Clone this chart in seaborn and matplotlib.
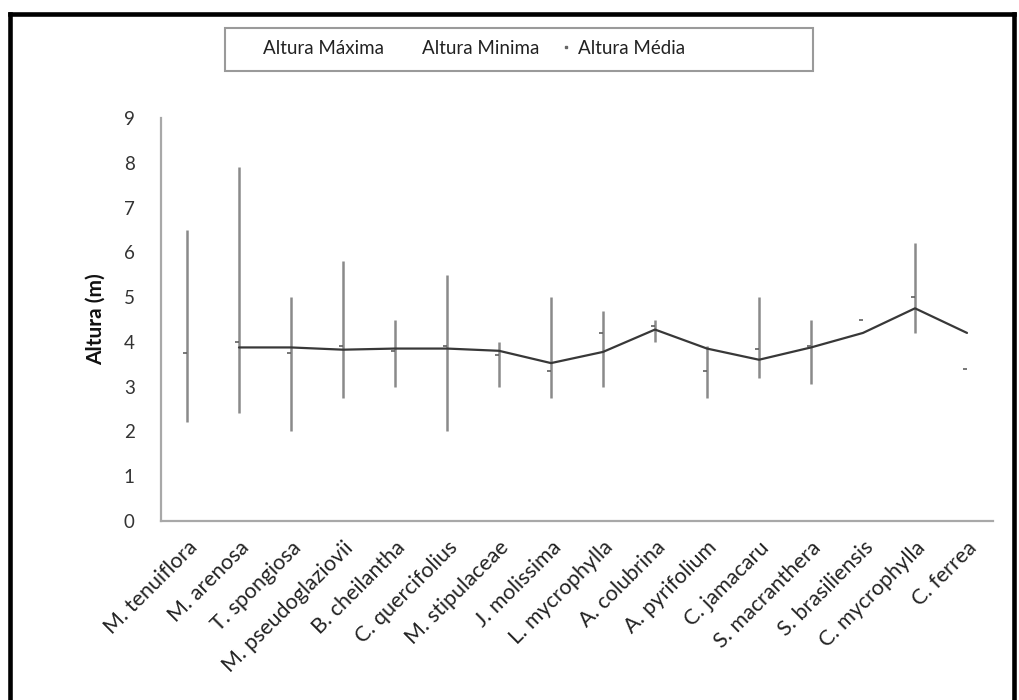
import numpy as np
import pandas as pd
import matplotlib
matplotlib.use("Agg")
import matplotlib.pyplot as plt
from matplotlib.lines import Line2D
from matplotlib.patches import Rectangle
import seaborn as sns

# Tree heights per species (m): maximum, minimum and mean
especies = ["M. tenuiflora", "M. arenosa", "T. spongiosa", "M. pseudoglaziovii",
            "B. cheilantha", "C. quercifolius", "M. stipulaceae", "J. molissima",
            "L. mycrophylla", "A. colubrina", "A. pyrifolium", "C. jamacaru",
            "S. macranthera", "S. brasiliensis", "C. mycrophylla", "C. ferrea"]
altura_maxima = [6.5, 7.9, 5.0, 5.8, 4.5, 5.5, 4.0, 5.0, 4.7, 4.5, 3.9, 5.0, 4.5, np.nan, 6.2, np.nan]
altura_minima = [2.2, 2.4, 2.0, 2.75, 3.0, 2.0, 3.0, 2.75, 3.0, 4.0, 2.75, 3.2, 3.05, np.nan, 4.2, np.nan]
altura_media = [3.75, 4.0, 3.75, 3.9, 3.8, 3.9, 3.7, 3.35, 4.2, 4.35, 3.35, 3.85, 3.9, 4.5, 5.0, 3.4]
y_ticks = list(range(0, 10))

df = pd.DataFrame({
    "especie": especies,
    "max": altura_maxima,
    "min": altura_minima,
    "media": altura_media,
})
df["pos"] = np.arange(len(df))
# two-period moving average of the mean height
df["mm2"] = df["media"].rolling(2).mean()

sns.set_style("white")
plt.rcParams["font.family"] = ["Lato", "DejaVu Sans"]

W, H = 1019, 700
fig = plt.figure(figsize=(W / 100, H / 100), dpi=100)
ax = fig.add_axes([161 / W, 1 - 520.7 / H, (993 - 161) / W, (520.7 - 118.3) / H])

# high-low bars
ax.vlines(df["pos"], df["min"], df["max"], color="#8a8a8a", lw=1.8, zorder=2)
# moving-average line
sns.lineplot(data=df, x="pos", y="mm2", ax=ax, color="#383838", lw=1.6, zorder=3)
# mean heights as right ticks
ax.plot(df["pos"], df["media"], linestyle="none", marker=0, markersize=3,
        mew=1.2, color="#606060", zorder=4)

ax.set_xlim(-0.5, len(df) - 0.5)
ax.set_ylim(0, 9)
ax.set_yticks(y_ticks)
ax.set_yticklabels([str(v) for v in y_ticks], fontsize=13.5, color="#333333")
ax.set_xticks(df["pos"])
ax.set_xticklabels(df["especie"], rotation=45, ha="right", rotation_mode="anchor",
                   fontsize=15.5, color="#222222")
ax.set_xticks(np.arange(-0.5, len(df)), minor=True)
ax.tick_params(axis="x", which="major", length=0, pad=12)
ax.tick_params(axis="x", which="minor", length=7, width=1.3, color="#a8a8a8", direction="out")
ax.tick_params(axis="y", length=7, width=1.3, color="#a8a8a8", direction="out", pad=12)
ax.set_xlabel("")
ax.set_ylabel("Altura (m)", fontsize=15, fontweight="bold", labelpad=13, color="#111111")

for s in ["top", "right"]:
    ax.spines[s].set_visible(False)
for s in ["left", "bottom"]:
    ax.spines[s].set_color("#a8a8a8")
    ax.spines[s].set_linewidth(1.6)

# legend
handles = [
    Line2D([], [], color="none"),
    Line2D([], [], color="none"),
    Line2D([], [], linestyle="none", marker="s", markersize=2, color="#666666"),
]
labels = ["Altura Máxima", "Altura Minima", "Altura Média"]
fig.legend(handles, labels, ncol=3, frameon=False, loc="center left",
           bbox_to_anchor=(234 / W, 1 - 48 / H), bbox_transform=fig.transFigure,
           fontsize=13.5, handlelength=0.8, handletextpad=0.25, columnspacing=1.0,
           borderpad=0, labelcolor="#222222")
fig.add_artist(Rectangle((225 / W, 1 - 71 / H), (813 - 225) / W, 43 / H,
                         transform=fig.transFigure, fill=False,
                         edgecolor="#9a9a9a", lw=1.5))

# outer frame (left, top, right)
for xs, ys in [([9.5, 9.5], [0, 13.5]), ([9.5, 1013.5], [13.5, 13.5]), ([1013.5, 1013.5], [13.5, 0])]:
    fig.add_artist(Line2D([x / W for x in xs], [1 - y / H if y else 0 for y in ys],
                          transform=fig.transFigure, color="black", lw=3.3,
                          solid_capstyle="projecting"))

fig.savefig("out.png", dpi=100, facecolor="white")
